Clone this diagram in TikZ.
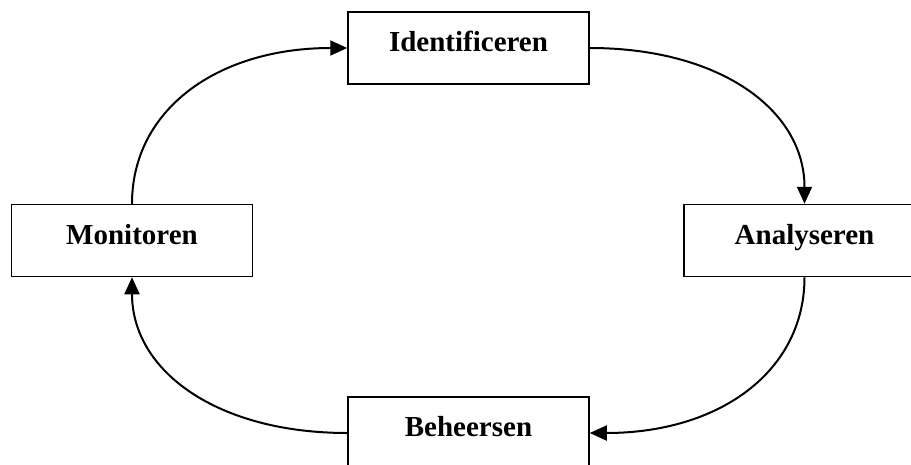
\documentclass[tikz,border=0pt]{standalone}
\usepackage{fontspec}
\setmainfont{Liberation Serif}
\usetikzlibrary{arrows.meta,calc}
\begin{document}
\begin{tikzpicture}[x=1pt,y=1pt,
  stagebox/.style={draw, line width=1.5pt, minimum width=241pt, minimum height=72pt,
    inner sep=0pt, text height=20pt, text depth=13pt,
    font=\fontsize{29}{34}\selectfont\bfseries},
  flow/.style={line width=2pt, -{Triangle[length=17pt,width=15pt]}}]
\clip (0,0) rectangle (911,-464);
\fill[white] (0,0) rectangle (911,-464);
\node[stagebox] (ident) at (468.5,-48) {Identificeren};
\node[stagebox] (monit) at (132,-240.5) {Monitoren};
\node[stagebox] (analy) at (804.5,-240.5) {Analyseren};
\node[stagebox] (beheer) at (468.5,-433) {Beheersen};
\draw[flow] (monit.north) .. controls ($(monit.north)+(0,94)$) and ($(ident.west)+(-130,0)$) .. (ident.west);
\draw[flow] (ident.east) .. controls ($(ident.east)+(130,0)$) and ($(analy.north)+(0,94)$) .. (analy.north);
\draw[flow] (analy.south) .. controls ($(analy.south)+(0,-94)$) and ($(beheer.east)+(130,0)$) .. (beheer.east);
\draw[flow] (beheer.west) .. controls ($(beheer.west)+(-130,0)$) and ($(monit.south)+(0,-94)$) .. (monit.south);
\end{tikzpicture}
\end{document}
